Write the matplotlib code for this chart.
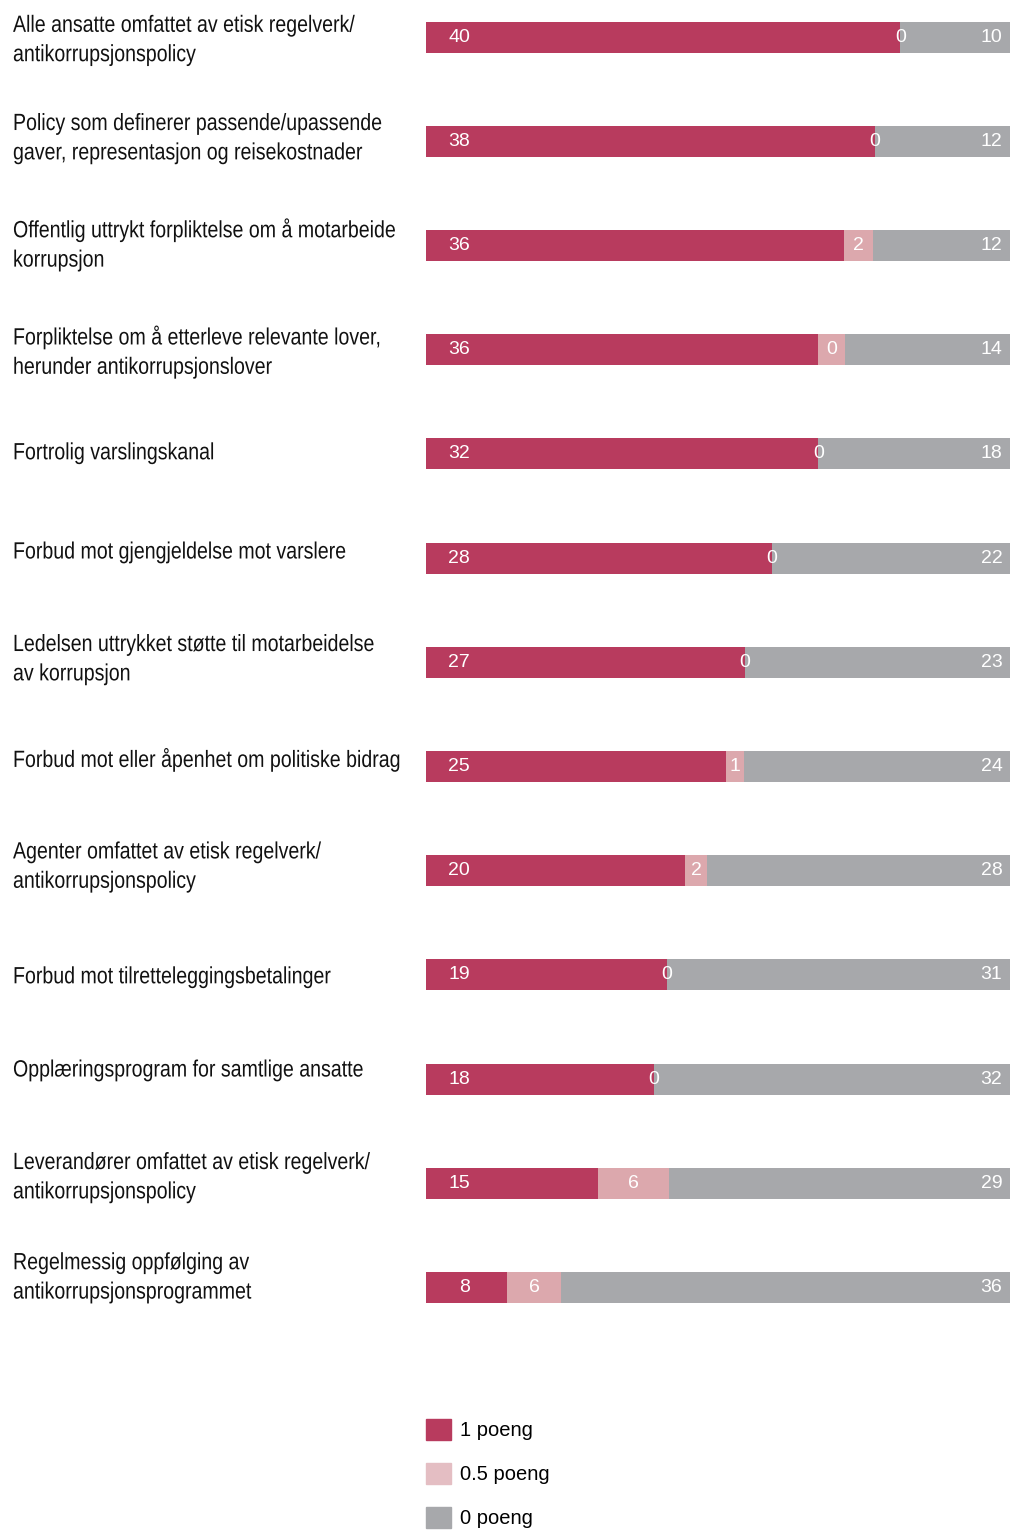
import matplotlib
matplotlib.use('Agg')
import matplotlib.pyplot as plt
import matplotlib.transforms as mtransforms
from matplotlib.patches import Patch
from matplotlib.patheffects import AbstractPathEffect
import numpy as np

plt.rcParams['font.family'] = ['Liberation Sans', 'DejaVu Sans']

categories = [
    'Alle ansatte omfattet av etisk regelverk/\nantikorrupsjonspolicy',
    'Policy som definerer passende/upassende\ngaver, representasjon og reisekostnader',
    'Offentlig uttrykt forpliktelse om å motarbeide\nkorrupsjon',
    'Forpliktelse om å etterleve relevante lover,\nherunder antikorrupsjonslover',
    'Fortrolig varslingskanal',
    'Forbud mot gjengjeldelse mot varslere',
    'Ledelsen uttrykket støtte til motarbeidelse\nav korrupsjon',
    'Forbud mot eller åpenhet om politiske bidrag',
    'Agenter omfattet av etisk regelverk/\nantikorrupsjonspolicy',
    'Forbud mot tilretteleggingsbetalinger',
    'Opplæringsprogram for samtlige ansatte',
    'Leverandører omfattet av etisk regelverk/\nantikorrupsjonspolicy',
    'Regelmessig oppfølging av\nantikorrupsjonsprogrammet',
]

# printed numbers (number of companies)
lab_full = [40, 38, 36, 36, 32, 28, 27, 25, 20, 19, 18, 15, 8]
lab_half = [0, 0, 2, 0, 0, 0, 0, 1, 2, 0, 0, 6, 6]
lab_zero = [10, 12, 12, 14, 18, 22, 23, 24, 28, 31, 32, 29, 36]

# drawn bar lengths as they appear in the chart (scale 0-50)
bar_full = [40.6, 38.4, 35.8, 33.6, 33.6, 29.6, 27.3, 25.7, 22.2, 20.6, 19.5, 14.7, 6.9]
bar_half = [0.0, 0.0, 2.5, 2.3, 0.0, 0.0, 0.0, 1.5, 1.9, 0.0, 0.0, 6.1, 4.7]
bar_zero = [9.4, 11.6, 11.7, 14.1, 16.4, 20.4, 22.7, 22.8, 25.9, 29.4, 30.5, 29.2, 38.4]

legend_labels = ['1 poeng', '0.5 poeng', '0 poeng']
c_full = '#b83b5e'
c_half = '#dca8ad'
c_half_leg = '#e4bec3'
c_zero = '#a7a8ab'

# small vertical nudges of the category texts (pixels, + is down)
label_shift = [4, -2, 0, 3, 0, -5, -2, -6, -3, 3, -8, -5, -9]


class Tall(AbstractPathEffect):
    # the original uses a condensed face: draw a smaller font stretched
    # upwards from each line's baseline
    def __init__(self, sy=1.0):
        super().__init__()
        self.sy = sy

    def draw_path(self, renderer, gc, tpath, affine, rgbFace=None):
        y0 = affine.get_matrix()[1, 2]
        stretch = mtransforms.Affine2D().translate(0, -y0).scale(1, self.sy).translate(0, y0)
        renderer.draw_path(gc, tpath, affine + stretch, rgbFace)


W, H = 1010, 1532
fig = plt.figure(figsize=(W / 100, H / 100), dpi=100)
ax = fig.add_axes([426 / W, 0, 584 / W, 1])

step = 104.2
y0 = 37
y = np.arange(len(categories))
full = np.array(bar_full)
half = np.array(bar_half)
zero = np.array(bar_zero)
h = 31 / step

ax.barh(y, full, height=h, color=c_full, linewidth=0)
ax.barh(y, half, left=full, height=h, color=c_half, linewidth=0)
ax.barh(y, zero, left=full + half, height=h, color=c_zero, linewidth=0)

ax.set_xlim(0, 50)
ax.set_ylim((H - y0) / step, -y0 / step)
ax.axis('off')

for i in range(len(categories)):
    ax.text(3.77, y[i], str(lab_full[i]), color='white', fontsize=14,
            ha='right', va='center')
    ax.text(full[i] + half[i] / 2, y[i], str(lab_half[i]), color='white',
            fontsize=14, ha='center', va='center')
    ax.text(49.35, y[i], str(lab_zero[i]), color='white', fontsize=14,
            ha='right', va='center')

trans = mtransforms.blended_transform_factory(fig.transFigure, ax.transData)
for i, cat in enumerate(categories):
    ax.text(13 / W, y[i] + label_shift[i] / step, cat, transform=trans,
            fontsize=14.1, ha='left', va='center', linespacing=1.69,
            color='#111111', path_effects=[Tall(1.2)])

handles = [Patch(color=c_full), Patch(color=c_half_leg), Patch(color=c_zero)]
fig.legend(handles, legend_labels, loc='upper left',
           bbox_to_anchor=(426 / W, 1 - 1419 / H), frameon=False,
           fontsize=14.5, handlelength=1.25, handleheight=1.25,
           handletextpad=0.45, labelspacing=1.12, borderpad=0, borderaxespad=0)

fig.savefig('out.png', dpi=100)
